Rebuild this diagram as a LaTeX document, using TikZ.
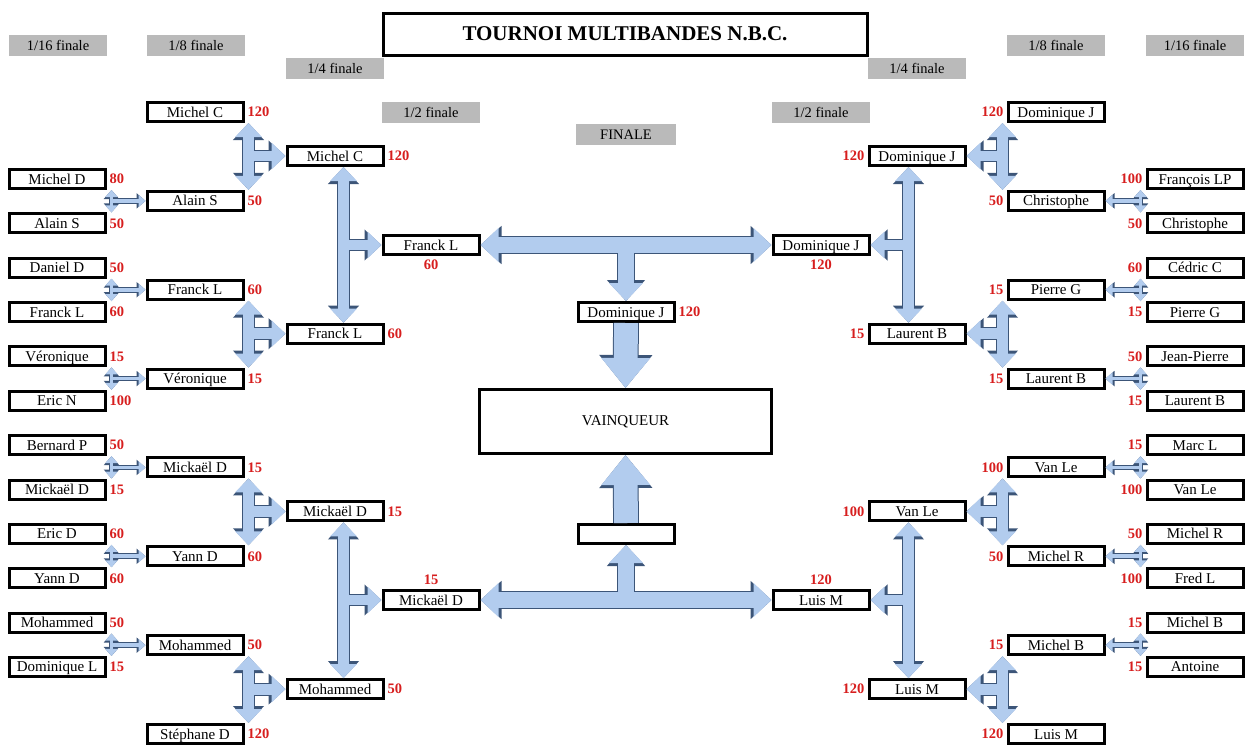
\documentclass[tikz,border=0pt]{standalone}
\usepackage{fontspec}
\setmainfont{Liberation Serif}
\usetikzlibrary{positioning,calc,arrows.meta}
\definecolor{arrowfill}{RGB}{178,204,238}
\definecolor{arrowedge}{RGB}{60,85,120}
\definecolor{scorered}{RGB}{215,30,30}
\tikzset{
  player/.style={draw, line width=3pt, minimum width=96pt, minimum height=19pt, inner sep=0pt, text height=10pt, text depth=0pt, font=\fontsize{15}{16}\selectfont},
  score/.style={text=scorered, font=\bfseries\fontsize{14.5}{16}\selectfont, inner sep=1pt},
  round/.style={fill=black!27, minimum width=98pt, minimum height=21pt, inner sep=0pt, text height=10pt, text depth=0pt, font=\fontsize{14.5}{16}\selectfont},
  smO/.style={draw=arrowedge, line width=5.8pt, >={Triangle[width=15pt,length=9pt]}},
  smF/.style={draw=arrowfill, line width=3.8pt, >={Triangle[width=12pt,length=7pt]}},
  mdO/.style={draw=arrowedge, line width=12.8pt, >={Triangle[width=30pt,length=17pt]}},
  mdF/.style={draw=arrowfill, line width=10.8pt, >={Triangle[width=26pt,length=14pt]}},
  lgO/.style={draw=arrowedge, line width=17.8pt, >={Triangle[width=37pt,length=21pt]}},
  lgF/.style={draw=arrowfill, line width=15.8pt, >={Triangle[width=33pt,length=18pt]}},
  xlO/.style={draw=arrowedge, line width=25.8pt, >={Triangle[width=51pt,length=33pt]}},
  xlF/.style={draw=arrowfill, line width=23.8pt, >={Triangle[width=47pt,length=30pt]}},
}
% tee: size, top, bottom, target, x offset
\newcommand\teeL[5]{%
  \coordinate (t1) at ($(#2.south east)+(#5,0)$);
  \coordinate (t2) at (t1 |- #3.north);
  \coordinate (tm) at (t1 |- #4);
  \draw[#1O,->] (tm) -- (#4.west); \draw[#1O,<->] (t1) -- (t2);
  \draw[#1F,->] (tm) -- (#4.west); \draw[#1F,<->] (t1) -- (t2);}
\newcommand\teeR[5]{%
  \coordinate (t1) at ($(#2.south west)+(#5,0)$);
  \coordinate (t2) at (t1 |- #3.north);
  \coordinate (tm) at (t1 |- #4);
  \draw[#1O,->] (tm) -- (#4.east); \draw[#1O,<->] (t1) -- (t2);
  \draw[#1F,->] (tm) -- (#4.east); \draw[#1F,<->] (t1) -- (t2);}
\begin{document}
\begin{tikzpicture}[x=1pt, y=-1pt]
\useasboundingbox (0,0) rectangle (1252,750);

% titles
\node[draw, line width=3pt, minimum width=484pt, minimum height=42pt, font=\bfseries\fontsize{21}{24}\selectfont] (title) at (625,34) {TOURNOI MULTIBANDES N.B.C.};
\node[round] at (58,45) {1/16 finale};
\node[round] at (196,45) {1/8 finale};
\node[round] at (335,68) {1/4 finale};
\node[round] at (431,112) {1/2 finale};
\node[round, minimum width=100pt] at (626,134) {FINALE};
\node[round] at (821,112) {1/2 finale};
\node[round] at (917,68) {1/4 finale};
\node[round] at (1056,45) {1/8 finale};
\node[round] at (1195,45) {1/16 finale};

% left side
\foreach \n/\s [count=\i] in {Michel D/80, Alain S/50, Daniel D/50, Franck L/60, Véronique/15, Eric N/100, Bernard P/50, Mickaël D/15, Eric D/60, Yann D/60, Mohammed/50, Dominique L/15}
  \node[player] (L16-\i) at (57,{179+(\i-1)*44.36}) {\n} node[score, right=2pt of L16-\i] {\s};
\foreach \n/\s [count=\i] in {Michel C/120, Alain S/50, Franck L/60, Véronique/15, Mickaël D/15, Yann D/60, Mohammed/50, Stéphane D/120}
  \node[player] (L8-\i) at (195,{112+(\i-1)*88.86}) {\n} node[score, right=2pt of L8-\i] {\s};
\foreach \n/\s [count=\i] in {Michel C/120, Franck L/60, Mickaël D/15, Mohammed/50}
  \node[player] (L4-\i) at (335,{156+(\i-1)*177.7}) {\n} node[score, right=2pt of L4-\i] {\s};
\node[player] (L2-1) at (431,245) {Franck L};
\node[score, below=3pt of L2-1] {60};
\node[player] (L2-2) at (431,600) {Mickaël D};
\node[score, above=3pt of L2-2] {15};

% right side
\foreach \n/\s [count=\i] in {François LP/100, Christophe/50, Cédric C/60, Pierre G/15, Jean-Pierre/50, Laurent B/15, Marc L/15, Van Le/100, Michel R/50, Fred L/100, Michel B/15, Antoine/15}
  \node[player] (R16-\i) at (1195,{179+(\i-1)*44.36}) {\n} node[score, left=2pt of R16-\i] {\s};
\foreach \n/\s [count=\i] in {Dominique J/120, Christophe/50, Pierre G/15, Laurent B/15, Van Le/100, Michel R/50, Michel B/15, Luis M/120}
  \node[player] (R8-\i) at (1056,{112+(\i-1)*88.86}) {\n} node[score, left=2pt of R8-\i] {\s};
\foreach \n/\s [count=\i] in {Dominique J/120, Laurent B/15, Van Le/100, Luis M/120}
  \node[player] (R4-\i) at (917,{156+(\i-1)*177.7}) {\n} node[score, left=2pt of R4-\i] {\s};
\node[player] (R2-1) at (821,245) {Dominique J};
\node[score, below=3pt of R2-1] {120};
\node[player] (R2-2) at (821,600) {Luis M};
\node[score, above=3pt of R2-2] {120};

% centre
\node[player] (champ) at (626,312) {Dominique J};
\node[score, right=2pt of champ] {120};
\node[draw, line width=3pt, minimum width=292pt, minimum height=64pt, font=\fontsize{15}{16}\selectfont] (winner) at (625.5,421.5) {VAINQUEUR};
\node[player] (empty) at (626,534) {};

% left connectors
\foreach \a/\b/\c in {1/2/2, 3/4/3, 5/6/4, 7/8/5, 9/10/6, 11/12/7}
  \teeL{sm}{L16-\a}{L16-\b}{L8-\c}{5};
\foreach \a/\b/\c in {1/2/1, 3/4/2, 5/6/3, 7/8/4}
  \teeL{md}{L8-\a}{L8-\b}{L4-\c}{4};
\teeL{md}{L4-1}{L4-2}{L2-1}{-41}
\teeL{md}{L4-3}{L4-4}{L2-2}{-41}

% right connectors
\foreach \a/\b/\c in {1/2/2, 3/4/3, 5/6/4, 7/8/5, 9/10/6, 11/12/7}
  \teeR{sm}{R16-\a}{R16-\b}{R8-\c}{-5};
\foreach \a/\b/\c in {1/2/1, 3/4/2, 5/6/3, 7/8/4}
  \teeR{md}{R8-\a}{R8-\b}{R4-\c}{-4};
\teeR{md}{R4-1}{R4-2}{R2-1}{41}
\teeR{md}{R4-3}{R4-4}{R2-2}{41}

% final
\coordinate (fm) at ($(L2-1.east)!0.5!(R2-1.west)$);
\coordinate (bm) at ($(L2-2.east)!0.5!(R2-2.west)$);
\draw[lgO,<->] (L2-1.east) -- (R2-1.west);
\draw[lgO,->] (fm) -- (champ.north);
\draw[lgF,<->] (L2-1.east) -- (R2-1.west);
\draw[lgF,->] (fm) -- (champ.north);
\draw[lgO,<->] (L2-2.east) -- (R2-2.west);
\draw[lgO,->] (bm) -- (empty.south);
\draw[lgF,<->] (L2-2.east) -- (R2-2.west);
\draw[lgF,->] (bm) -- (empty.south);
\draw[xlO,->] (champ.south) -- (winner.north);
\draw[xlF,->] (champ.south) -- (winner.north);
\draw[xlO,->] (empty.north) -- (winner.south);
\draw[xlF,->] (empty.north) -- (winner.south);
\end{tikzpicture}
\end{document}
